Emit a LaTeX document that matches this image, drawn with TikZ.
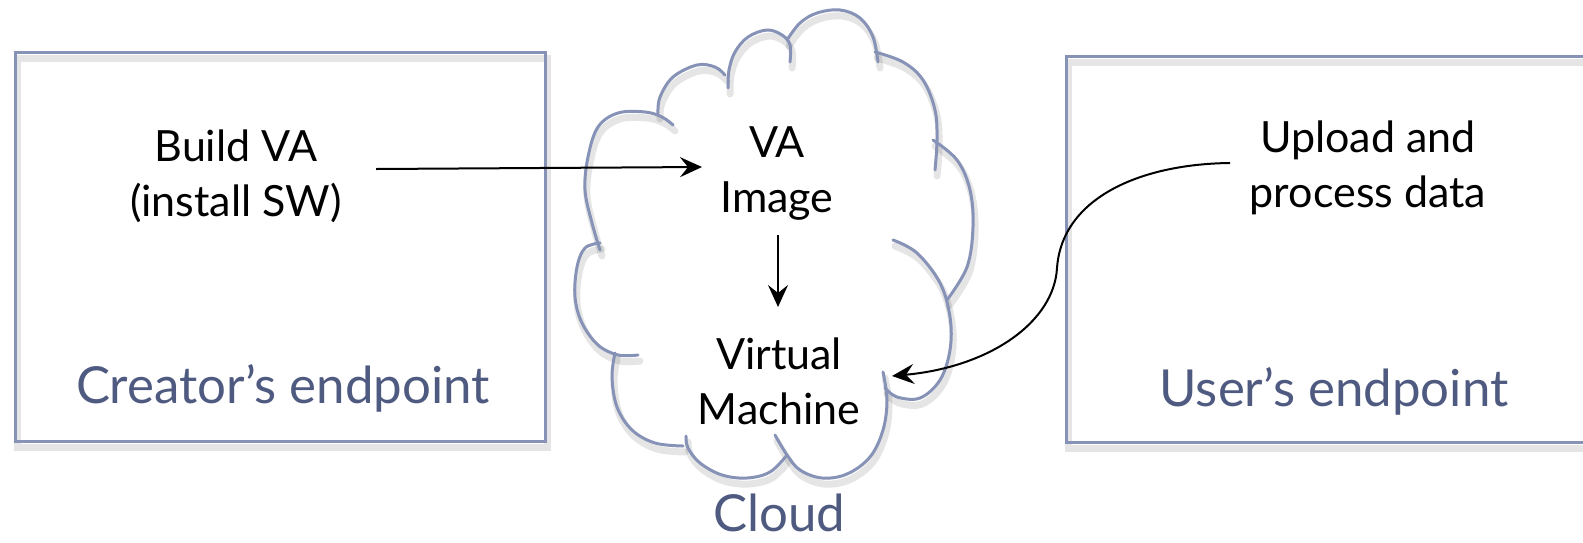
\documentclass[tikz,border=0pt]{standalone}
\usepackage{fontspec}
\setmainfont{Lato}
\usetikzlibrary{arrows.meta,calc}
\definecolor{cloudline}{HTML}{8792B7}
\definecolor{labelc}{HTML}{4F5A80}
\newcommand\cloudpaths[1]{%
  \draw[#1] plot[smooth,tension=.6] coordinates {(673,125) (662,117) (645,112) (618,113) (598,127) (588,157) (585,190) (592,223) (600,250)};
  \draw[#1] plot[smooth,tension=.6] coordinates {(658,113) (660,97) (673,77) (697,65) (715,67) (725,75)};
  \draw[#1] plot[smooth,tension=.6] coordinates {(728,88) (729,70) (735,52) (748,37) (767,30) (782,35) (790,45) (790,62)};
  \draw[#1] plot[smooth,tension=.6] coordinates {(787,40) (800,23) (817,13) (840,10) (860,18) (873,37) (878,62)};
  \draw[#1] plot[smooth,tension=.6] coordinates {(875,52) (903,62) (923,80) (935,110) (937,140) (935,170)};
  \draw[#1] plot[smooth,tension=.6] coordinates {(933,140) (957,160) (970,190) (973,227) (967,267) (947,300)};
  \draw[#1] plot[smooth,tension=.6] coordinates {(893,240) (917,253) (940,283) (950,317) (950,350) (940,380) (920,398) (897,397) (885,388)};
  \draw[#1] plot[smooth,tension=.6] coordinates {(883,372) (887,400) (883,430) (870,457) (847,474) (822,478) (800,470) (787,455) (775,435)};
  \draw[#1] plot[smooth,tension=.6] coordinates {(787,455) (770,472) (747,478) (722,475) (700,463) (688,448) (686,436)};
  \draw[#1] plot[smooth,tension=.6] coordinates {(615,353) (612,377) (617,407) (632,430) (655,443) (683,446)};
  \draw[#1] plot[smooth,tension=.6] coordinates {(600,243) (585,248) (577,267) (575,297) (582,323) (598,345) (618,355) (638,355)};
}
\begin{document}
\begin{tikzpicture}[x=0.5pt,y=-0.5pt,
  outline/.style={draw=cloudline, line width=1.5pt, line cap=round},
  shadowline/.style={draw=black, opacity=0.10, line width=3.5pt, line cap=round, shift={(2,6)}},
  main/.style={font=\fontsize{21.5}{27.5}\selectfont, align=center, inner sep=0pt, text=black},
  lbl/.style={font=\fontsize{25.5}{30}\selectfont, text=labelc, inner sep=0pt, anchor=base},
  conn/.style={draw=black, line width=1pt, -{Stealth[length=11pt,width=10pt,inset=4pt]}}
]
\useasboundingbox (0,0) rectangle (1583,542);
\fill[white] (0,0) rectangle (1583,542);
% boxes
\draw[shadowline] (15,52) rectangle (545,441);
\draw[shadowline] (1066,56) rectangle (1620,442);
\draw[outline] (15,52) rectangle (545,441);
\draw[outline] (1066,56) rectangle (1620,442);
% cloud
\cloudpaths{shadowline}
\cloudpaths{outline}
% texts
\node[main] (build) at (236,176) {Build VA\\(install SW)};
\node[main] (vaimg) at (777,174) {VA\\Image};
\node[main] (vm) at (779,381) {Virtual\\Machine};
\node[main] (upload) at (1368,168) {Upload and\\process data};
\node[lbl] (creator) at (283,403) {Creator’s endpoint};
\node[lbl] (user) at (1334,406) {User’s endpoint};
\node[lbl] (cloud) at (779,531) {Cloud};
% connectors
\coordinate (a1) at ($(build.center)+(140,-7)$);
\coordinate (a2) at ($(vaimg.center)+(-75,-7)$);
\draw[conn] (a1) -- (a2);
\coordinate (b1) at ($(vaimg.center)+(1,61)$);
\coordinate (b2) at ($(vm.center)+(-1,-74)$);
\draw[conn] (b1) -- (b2);
\coordinate (c1) at ($(upload.center)+(-138,-5)$);
\coordinate (c2) at ($(vm.center)+(113,-5)$);
\draw[conn] (c1) .. controls (1140,164) and (1062,198) .. (1057,268) .. controls (1054,322) and (990,367) .. (c2);
\end{tikzpicture}
\end{document}
